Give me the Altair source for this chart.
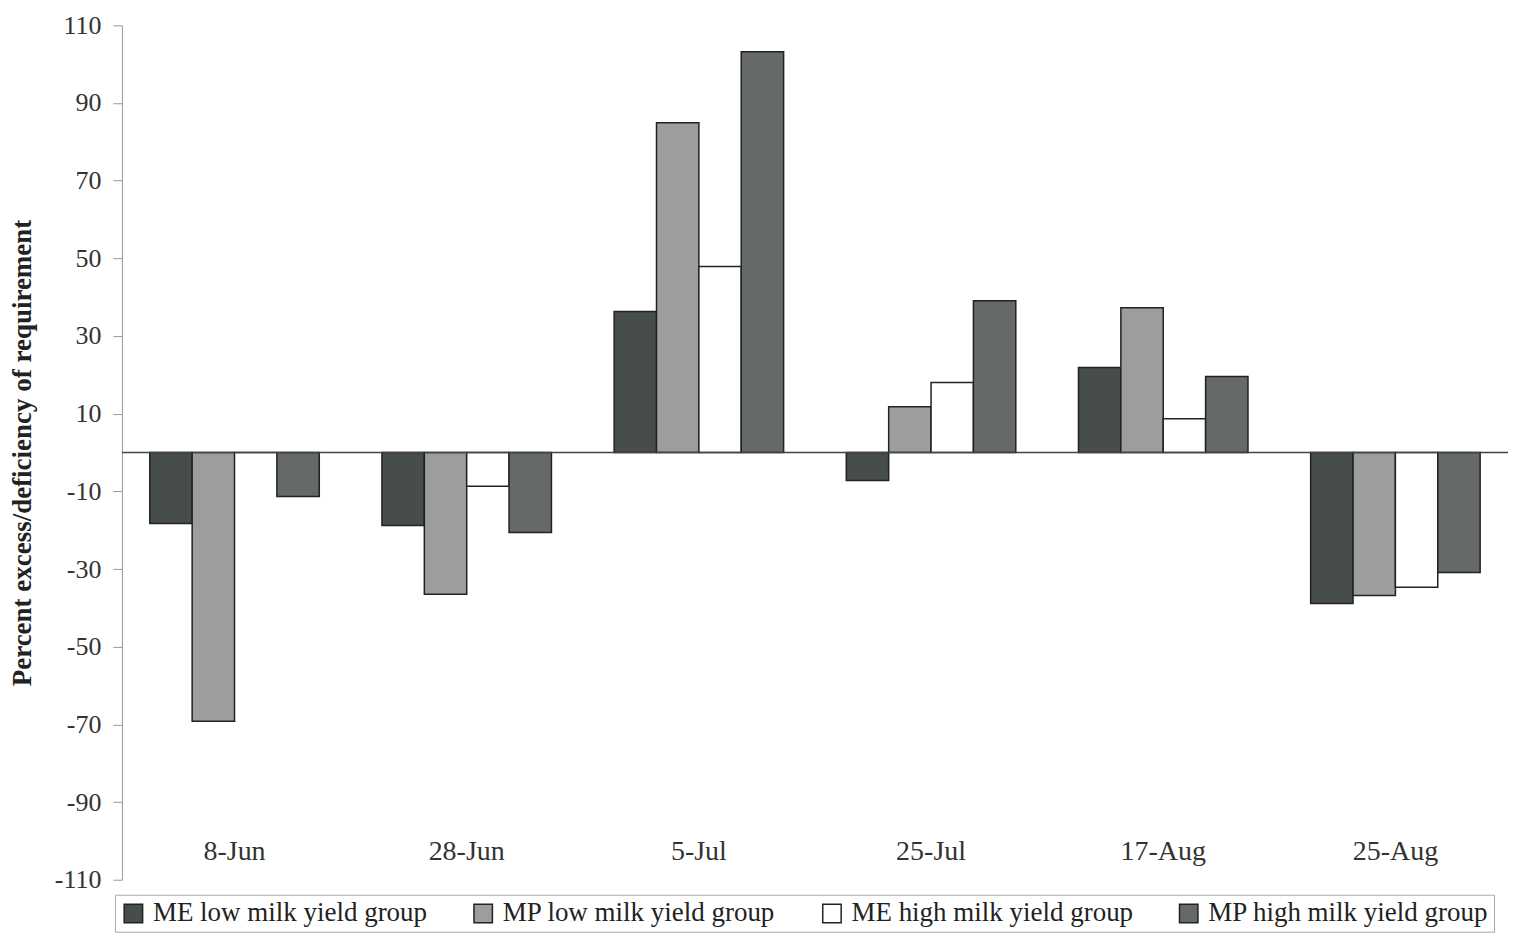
import altair as alt
import pandas as pd

dates = ["8-Jun", "28-Jun", "5-Jul", "25-Jul", "17-Aug", "25-Aug"]
groups = ["ME low milk yield group", "MP low milk yield group",
          "ME high milk yield group", "MP high milk yield group"]
me_low = [-18.3, -18.8, 36.3, -7.2, 21.9, -38.9]
mp_low = [-69.2, -36.5, 84.9, 11.8, 37.3, -36.8]
me_high = [0.0, -8.7, 47.9, 18.0, 8.7, -34.7]
mp_high = [-11.3, -20.6, 103.2, 39.1, 19.6, -30.9]
colors = ["#474d4b", "#9c9e9d", "#ffffff", "#656967"]
y_ticks = list(range(-110, 111, 20))

rows = []
for g, vals in zip(groups, [me_low, mp_low, me_high, mp_high]):
    for d, v in zip(dates, vals):
        rows.append({"date": d, "group": g, "value": v})
df = pd.DataFrame(rows)

FONT = "Liberation Serif"

bars = alt.Chart(df).mark_bar(stroke="#222222", strokeWidth=1.5).encode(
    x=alt.X("date:N", sort=dates,
            scale=alt.Scale(paddingInner=0.27, paddingOuter=0.12),
            axis=alt.Axis(title=None, domain=False, ticks=False, labelAngle=0,
                          labelFont=FONT, labelFontSize=28, labelColor="#333333",
                          offset=-42, labelPadding=0)),
    xOffset=alt.XOffset("group:N", sort=groups),
    y=alt.Y("value:Q",
            scale=alt.Scale(domain=[-110, 110], nice=False, zero=False),
            axis=alt.Axis(values=y_ticks, grid=False,
                          labelExpr="'' + datum.value",
                          title="Percent excess/deficiency of requirement",
                          titleFont=FONT, titleFontSize=27, titleFontWeight="bold",
                          titleColor="#222222", titlePadding=18,
                          labelFont=FONT, labelFontSize=26, labelColor="#333333",
                          domainColor="#999999", tickColor="#999999", tickSize=9,
                          labelPadding=12)),
    fill=alt.Fill("group:N", sort=groups,
                  scale=alt.Scale(domain=groups, range=colors),
                  legend=alt.Legend(title=None, orient="none", legendX=-7, legendY=870,
                                    direction="horizontal", columns=4,
                                    symbolType="square", symbolSize=340,
                                    symbolStrokeColor="#222222", symbolStrokeWidth=1.5,
                                    labelFont=FONT, labelFontSize=27, labelColor="#222222",
                                    labelLimit=0, labelOffset=6, columnPadding=42,
                                    strokeColor="#aaaaaa", padding=5)),
)

zero = alt.Chart(pd.DataFrame({"z": [0]})).mark_rule(color="#444444", strokeWidth=1.5).encode(
    y=alt.Y("z:Q")
)

chart = alt.layer(bars, zero).properties(
    width=1387, height=855,
    padding={"left": 0, "top": 4, "right": 0, "bottom": 0},
).configure(background="white", view=alt.ViewConfig(strokeWidth=0, stroke="transparent"))

chart.save("out.html", embed_options={"renderer": "svg", "actions": False})
